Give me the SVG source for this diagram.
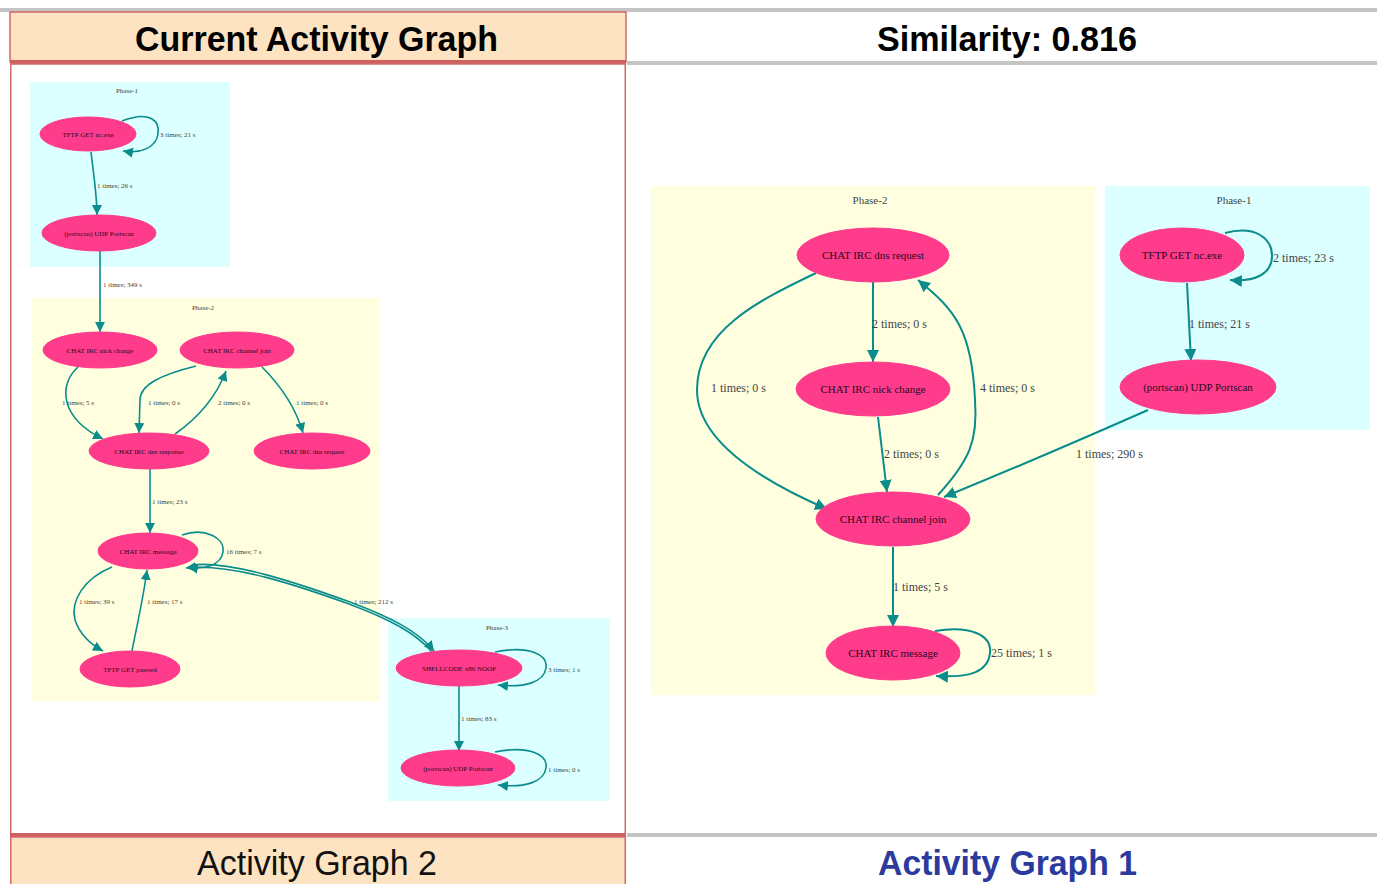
<svg xmlns="http://www.w3.org/2000/svg" width="1377" height="884" viewBox="0 0 1377 884">
  <style>
    .hdr { font-family: "Liberation Sans", Arial, sans-serif; font-weight: bold; fill: #000; }
    .ftr { font-family: "Liberation Sans", Arial, sans-serif; }
    .node { fill: #ff3b8b; stroke: #ff3b8b; }
    .nl { font-family: "Liberation Serif", "Times New Roman", serif; fill: #2a0a20; text-anchor: middle; }
    .el { font-family: "Liberation Serif", "Times New Roman", serif; fill: #444; }
    .cl { font-family: "Liberation Serif", "Times New Roman", serif; fill: #444; text-anchor: middle; }
    .s { font-size: 7px; }
    .b { font-size: 11px; }
    .eb { font-size: 12px; }
    .e1 { fill: none; stroke: #0a8c8c; stroke-width: 1.6; marker-end: url(#ahs); }
    .e2 { fill: none; stroke: #0a8c8c; stroke-width: 2; marker-end: url(#ahb); }
    .cy { fill: #dcffff; }
    .ye { fill: #ffffdf; }
  </style>
  <defs>
    <marker id="ahs" markerUnits="userSpaceOnUse" markerWidth="10" markerHeight="10" viewBox="0 0 10 10" refX="10" refY="5" orient="auto">
      <path d="M0,0 L10,5 L0,10 z" fill="#0a8c8c"/>
    </marker>
    <marker id="ahb" markerUnits="userSpaceOnUse" markerWidth="12" markerHeight="12" viewBox="0 0 10 10" refX="10" refY="5" orient="auto">
      <path d="M0,0 L10,5 L0,10 z" fill="#0a8c8c"/>
    </marker>
  </defs>

  <rect width="1377" height="884" fill="#fff"/>

  <!-- frame: headers, panels, footers -->
  <g id="frame">
    <rect x="0" y="8" width="1377" height="4" fill="#c4c4c4"/>
    <rect x="10" y="12" width="616" height="50" fill="#fde3c2" stroke="#cf6a6a" stroke-width="1.5"/>
    <rect x="627" y="61" width="750" height="4" fill="#c4c4c4"/>
    <rect x="10" y="60" width="616" height="4" fill="#cf6060"/>
    <rect x="10.75" y="64" width="614.5" height="770" fill="#fff" stroke="#cf6a6a" stroke-width="1.5"/>
    <rect x="10" y="833" width="616" height="4" fill="#cf6060"/>
    <rect x="627" y="833" width="750" height="4" fill="#c4c4c4"/>
    <rect x="10.75" y="837" width="614.5" height="50" fill="#fde3c2" stroke="#cf6a6a" stroke-width="1.5"/>
    <text class="hdr" x="135" y="51" font-size="35" textLength="363" lengthAdjust="spacingAndGlyphs">Current Activity Graph</text>
    <text class="hdr" x="877" y="51" font-size="35" textLength="260" lengthAdjust="spacingAndGlyphs">Similarity: 0.816</text>
    <text class="ftr" x="197" y="875" font-size="35" fill="#111" textLength="240" lengthAdjust="spacingAndGlyphs">Activity Graph 2</text>
    <text class="ftr" x="878" y="875" font-size="35" font-weight="bold" fill="#2b3a9c" textLength="259" lengthAdjust="spacingAndGlyphs">Activity Graph 1</text>
  </g>

  <!-- Activity Graph 2: clusters -->
  <g id="g2-phase1">
    <rect class="cy" x="30" y="82" width="200" height="185"/>
    <text class="cl s" x="127" y="93">Phase-1</text>
  </g>
  <g id="g2-phase2">
    <rect class="ye" x="32" y="298" width="348" height="403"/>
    <text class="cl s" x="203" y="310">Phase-2</text>
  </g>
  <g id="g2-phase3">
    <rect class="cy" x="388" y="618" width="222" height="183"/>
    <text class="cl s" x="497" y="630">Phase-3</text>
  </g>

  <!-- Activity Graph 1: clusters -->
  <g id="g1-phase2">
    <rect class="ye" x="651" y="186" width="444" height="509"/>
    <text class="cl b" x="870" y="204">Phase-2</text>
  </g>
  <g id="g1-phase1">
    <rect class="cy" x="1105" y="186" width="265" height="244"/>
    <text class="cl b" x="1234" y="204">Phase-1</text>
  </g>

  <!-- connectors -->
  <g id="connectors">
    <!-- graph 2 -->
    <path class="e1" d="M122,121 C150,110 160,121 158,134 C156,148 140,154 123,151"/>
    <path class="e1" d="M91,152 C93,170 97,195 97,215"/>
    <path class="e1" d="M100,251 L100,332"/>
    <path class="e1" d="M78,367 C58,385 60,418 103,439"/>
    <path class="e1" d="M196,366 C160,375 140,385 140,400 L139,433"/>
    <path class="e1" d="M175,434 C195,420 215,400 226,371"/>
    <path class="e1" d="M262,367 C280,385 295,405 303,433"/>
    <path class="e1" d="M150,469 L150,533"/>
    <path class="e1" d="M182,535 C205,527 225,538 223,552 C221,565 205,570 188,567"/>
    <path class="e1" d="M112,567 C85,578 70,600 75,620 C80,635 92,645 103,651"/>
    <path class="e1" d="M132,651 C137,625 143,600 147,570"/>
    <path class="e1" d="M192,565 C230,560 300,584 350,602 C390,617 418,631 434,651"/>
    <path class="e1" d="M432,652 C416,633 389,619 349,604 C299,586 232,563 186,568"/>
    <path class="e1" d="M495,652 C530,645 548,655 546,668 C544,682 525,688 498,685"/>
    <path class="e1" d="M459,686 L459,751"/>
    <path class="e1" d="M495,752 C530,745 548,755 546,768 C544,782 525,788 498,785"/>
    <!-- graph 1 -->
    <path class="e2" d="M1225,233 C1255,225 1272,238 1272,256 C1272,274 1255,282 1230,280"/>
    <path class="e2" d="M1187,283 L1191,361"/>
    <path class="e2" d="M1148,410 C1080,440 1010,470 944,497"/>
    <path class="e2" d="M873,282 L873,362"/>
    <path class="e2" d="M816,273 C760,300 697,330 697,390 C697,440 760,480 827,509"/>
    <path class="e2" d="M938,495 C970,460 978,440 975,400 C972,330 955,310 918,280"/>
    <path class="e2" d="M878,417 L887,492"/>
    <path class="e2" d="M893,547 L893,627"/>
    <path class="e2" d="M935,631 C970,625 992,635 990,653 C988,672 970,678 936,676"/>

    <!-- edge labels, graph 2 -->
    <text class="el s" x="160" y="137">3 times; 21 s</text>
    <text class="el s" x="97" y="188">1 times; 26 s</text>
    <text class="el s" x="103" y="287">1 times; 349 s</text>
    <text class="el s" x="62" y="405">1 times; 5 s</text>
    <text class="el s" x="148" y="405">1 times; 0 s</text>
    <text class="el s" x="218" y="405">2 times; 0 s</text>
    <text class="el s" x="296" y="405">1 times; 0 s</text>
    <text class="el s" x="152" y="504">1 times; 23 s</text>
    <text class="el s" x="226" y="554">16 times; 7 s</text>
    <text class="el s" x="79" y="604">1 times; 39 s</text>
    <text class="el s" x="147" y="604">1 times; 17 s</text>
    <text class="el s" x="354" y="604">1 times; 212 s</text>
    <text class="el s" x="548" y="672">3 times; 1 s</text>
    <text class="el s" x="461" y="721">1 times; 83 s</text>
    <text class="el s" x="548" y="772">1 times; 0 s</text>

    <!-- edge labels, graph 1 -->
    <text class="el eb" x="1273" y="262">2 times; 23 s</text>
    <text class="el eb" x="1189" y="328">1 times; 21 s</text>
    <text class="el eb" x="1076" y="458">1 times; 290 s</text>
    <text class="el eb" x="872" y="328">2 times; 0 s</text>
    <text class="el eb" x="711" y="392">1 times; 0 s</text>
    <text class="el eb" x="980" y="392">4 times; 0 s</text>
    <text class="el eb" x="884" y="458">2 times; 0 s</text>
    <text class="el eb" x="893" y="591">1 times; 5 s</text>
    <text class="el eb" x="991" y="657">25 times; 1 s</text>
  </g>

  <!-- graph 2 nodes -->
  <g id="n2-tftp-exe">
    <ellipse class="node" cx="88" cy="134" rx="48" ry="17"/>
    <text class="nl s" x="88" y="136.5">TFTP GET nc.exe</text>
  </g>
  <g id="n2-portscan-a">
    <ellipse class="node" cx="99" cy="233" rx="57" ry="18"/>
    <text class="nl s" x="99" y="235.5">(portscan) UDP Portscan</text>
  </g>
  <g id="n2-nick">
    <ellipse class="node" cx="100" cy="350" rx="57" ry="18"/>
    <text class="nl s" x="100" y="352.5">CHAT IRC nick change</text>
  </g>
  <g id="n2-join">
    <ellipse class="node" cx="237" cy="350" rx="57" ry="18"/>
    <text class="nl s" x="237" y="352.5">CHAT IRC channel join</text>
  </g>
  <g id="n2-dns-resp">
    <ellipse class="node" cx="149" cy="451" rx="60" ry="18"/>
    <text class="nl s" x="149" y="453.5">CHAT IRC dns response</text>
  </g>
  <g id="n2-dns-req">
    <ellipse class="node" cx="312" cy="451" rx="58" ry="18"/>
    <text class="nl s" x="312" y="453.5">CHAT IRC dns request</text>
  </g>
  <g id="n2-message">
    <ellipse class="node" cx="148" cy="551" rx="50" ry="18"/>
    <text class="nl s" x="148" y="553.5">CHAT IRC message</text>
  </g>
  <g id="n2-passwd">
    <ellipse class="node" cx="130" cy="669" rx="50" ry="18"/>
    <text class="nl s" x="130" y="671.5">TFTP GET passwd</text>
  </g>
  <g id="n2-shellcode">
    <ellipse class="node" cx="459" cy="668" rx="63" ry="18"/>
    <text class="nl s" x="459" y="670.5">SHELLCODE x86 NOOP</text>
  </g>
  <g id="n2-portscan-b">
    <ellipse class="node" cx="458" cy="768" rx="57" ry="18"/>
    <text class="nl s" x="458" y="770.5">(portscan) UDP Portscan</text>
  </g>

  <!-- graph 1 nodes -->
  <g id="n1-dns-req">
    <ellipse class="node" cx="873" cy="255" rx="76" ry="27"/>
    <text class="nl b" x="873" y="259">CHAT IRC dns request</text>
  </g>
  <g id="n1-nick">
    <ellipse class="node" cx="873" cy="389" rx="77" ry="27"/>
    <text class="nl b" x="873" y="393">CHAT IRC nick change</text>
  </g>
  <g id="n1-join">
    <ellipse class="node" cx="893" cy="519" rx="77" ry="27"/>
    <text class="nl b" x="893" y="523">CHAT IRC channel join</text>
  </g>
  <g id="n1-message">
    <ellipse class="node" cx="893" cy="653" rx="67" ry="27"/>
    <text class="nl b" x="893" y="657">CHAT IRC message</text>
  </g>
  <g id="n1-tftp-exe">
    <ellipse class="node" cx="1182" cy="255" rx="62" ry="27"/>
    <text class="nl b" x="1182" y="259">TFTP GET nc.exe</text>
  </g>
  <g id="n1-portscan">
    <ellipse class="node" cx="1198" cy="387" rx="78" ry="27"/>
    <text class="nl b" x="1198" y="391">(portscan) UDP Portscan</text>
  </g>
</svg>
